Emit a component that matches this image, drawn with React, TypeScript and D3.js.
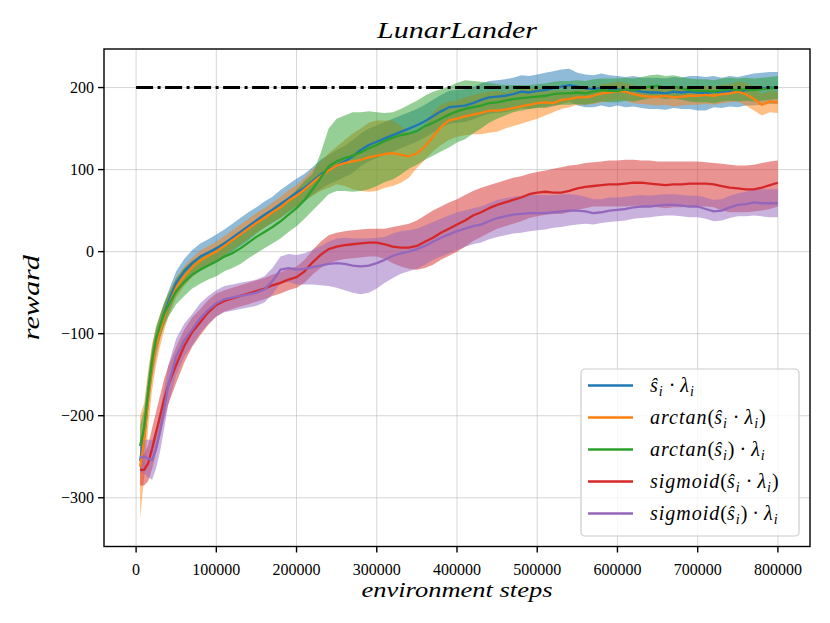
import React from 'react';
import * as d3 from 'd3';

// environment steps, in thousands
const STEPS_K = [
  5, 10, 15, 20, 25, 30, 35, 40,
  50, 60, 70, 80, 90, 100, 110, 120, 130, 140,
  150, 160, 170, 180, 190, 200, 210, 220, 230, 240,
  250, 260, 270, 280, 290, 300, 310, 320, 330, 340,
  350, 360, 370, 380, 390, 400, 410, 420, 430, 440,
  450, 460, 470, 480, 490, 500, 510, 520, 530, 540,
  550, 560, 570, 580, 590, 600, 610, 620, 630, 640,
  650, 660, 670, 680, 690, 700, 710, 720, 730, 740,
  750, 760, 770, 780, 790, 800,
];

// s_i * lambda_i
const SCALED_MEAN = [
  -255, -225, -175, -138, -112, -92, -76, -62,
  -38, -24, -14, -6, -1, 4, 10, 17, 24, 31,
  38, 45, 51, 58, 65, 72, 78, 86, 94, 100,
  105, 110, 116, 124, 130, 134, 138, 142, 146, 150,
  154, 159, 165, 171, 176, 177, 178, 181, 185, 188,
  189, 190, 192, 195, 194, 196, 197, 199, 201, 203,
  201, 199, 198, 200, 198, 198, 196, 197, 195, 194,
  194, 193, 195, 194, 195, 194, 193, 195, 194, 196,
  195, 197, 198, 199, 200, 200,
];
const SCALED_LO = [
  -270, -245, -195, -155, -128, -106, -89, -75,
  -52, -39, -30, -22, -17, -13, -7, 0, 7, 14,
  22, 29, 35, 41, 48, 55, 61, 69, 76, 82,
  86, 91, 96, 104, 110, 114, 118, 122, 126, 130,
  134, 139, 145, 151, 156, 157, 158, 161, 165, 168,
  169, 170, 172, 175, 174, 176, 175, 177, 180, 183,
  178, 176, 176, 178, 176, 178, 176, 177, 175, 174,
  174, 173, 175, 174, 174, 172, 172, 176, 175, 177,
  176, 178, 178, 179, 180, 180,
];
const SCALED_HI = [
  -240, -205, -155, -120, -96, -78, -63, -49,
  -24, -9, 2, 10, 15, 21, 27, 34, 41, 48,
  54, 61, 67, 75, 82, 89, 95, 103, 112, 118,
  124, 129, 136, 144, 150, 154, 158, 162, 166, 170,
  174, 179, 185, 191, 196, 197, 198, 201, 205, 208,
  209, 210, 212, 215, 214, 216, 218, 220, 222, 223,
  218, 216, 215, 217, 215, 214, 213, 214, 212, 212,
  212, 211, 213, 212, 214, 214, 213, 214, 212, 214,
  213, 215, 217, 218, 219, 219,
];

// arctan(s_i * lambda_i)
const ATAN_PROD_MEAN = [
  -262, -230, -180, -140, -115, -96, -80, -66,
  -44, -30, -19, -11, -5, 0, 7, 14, 21, 28,
  35, 41, 48, 54, 62, 68, 76, 84, 92, 99,
  105, 108, 110, 112, 115, 117, 119, 120, 118, 116,
  120, 128, 140, 152, 160, 162, 165, 167, 169, 172,
  172, 173, 175, 177, 179, 181, 182, 181, 185, 186,
  188, 188, 190, 193, 194, 196, 195, 192, 190, 189,
  189, 190, 188, 189, 190, 190, 191, 190, 192, 193,
  195, 192, 186, 179, 183, 182,
];
const ATAN_PROD_LO = [
  -325, -275, -215, -168, -138, -115, -96, -80,
  -56, -42, -31, -23, -17, -12, -5, 2, 9, 16,
  23, 29, 36, 41, 49, 55, 62, 68, 74, 78,
  82, 80, 76, 74, 73, 74, 78, 80, 84, 90,
  102, 112, 122, 130, 136, 140, 142, 143, 143, 145,
  146, 150, 153, 156, 159, 162, 166, 170, 174, 176,
  179, 179, 180, 182, 183, 185, 184, 181, 180, 179,
  178, 179, 177, 178, 179, 179, 180, 179, 181, 182,
  183, 178, 172, 166, 170, 169,
];
const ATAN_PROD_HI = [
  -200, -185, -145, -112, -92, -77, -64, -52,
  -32, -18, -7, 1, 7, 12, 19, 26, 33, 40,
  47, 53, 60, 67, 75, 81, 90, 100, 110, 120,
  128, 136, 144, 150, 157, 160, 160, 160, 153, 144,
  144, 152, 170, 179, 183, 184, 188, 191, 193, 195,
  196, 194, 197, 198, 199, 200, 198, 196, 196, 196,
  197, 198, 200, 204, 205, 207, 206, 203, 200, 199,
  200, 201, 199, 200, 201, 201, 202, 201, 203, 204,
  207, 206, 200, 192, 196, 195,
];

// arctan(s_i) * lambda_i
const ATAN_S_MEAN = [
  -237, -215, -172, -133, -106, -90, -76, -66,
  -48, -37, -28, -22, -17, -12, -6, -2, 4, 11,
  18, 24, 30, 37, 45, 53, 63, 76, 90, 104,
  110, 114, 117, 121, 126, 130, 135, 139, 142, 144,
  147, 153, 157, 162, 167, 171, 174, 176, 178, 181,
  182, 184, 186, 187, 188, 189, 190, 192, 193, 193,
  194, 193, 195, 197, 196, 196, 198, 197, 199, 201,
  202, 200, 201, 199, 197, 196, 196, 195, 197, 198,
  197, 198, 197, 198, 199, 200,
];
const ATAN_S_LO = [
  -262, -238, -192, -150, -121, -104, -90, -80,
  -64, -54, -45, -39, -34, -30, -24, -20, -15, -8,
  -2, 4, 10, 16, 24, 31, 40, 50, 60, 70,
  74, 74, 73, 74, 76, 80, 85, 88, 94, 101,
  106, 112, 117, 122, 127, 133, 137, 144, 150, 157,
  162, 166, 170, 172, 174, 175, 176, 178, 179, 179,
  180, 179, 181, 183, 182, 182, 184, 183, 185, 187,
  188, 186, 187, 185, 183, 182, 182, 181, 183, 184,
  183, 184, 183, 184, 185, 186,
];
const ATAN_S_HI = [
  -212, -192, -152, -116, -91, -76, -62, -52,
  -32, -20, -11, -5, 0, 6, 12, 16, 23, 30,
  38, 44, 50, 58, 66, 75, 86, 95, 120, 150,
  162, 166, 170, 170, 171, 170, 169, 170, 174, 179,
  184, 190, 195, 198, 201, 206, 209, 208, 207, 206,
  204, 203, 203, 203, 203, 204, 205, 207, 208, 208,
  209, 208, 210, 211, 211, 211, 212, 211, 213, 215,
  216, 214, 215, 213, 211, 210, 210, 209, 211, 212,
  211, 212, 211, 212, 213, 214,
];

// sigmoid(s_i * lambda_i)
const SIG_PROD_MEAN = [
  -266, -266, -258, -240, -220, -200, -180, -163,
  -138, -115, -98, -86, -74, -65, -60, -57, -54, -51,
  -48, -45, -41, -38, -34, -31, -24, -13, -4, 3,
  6, 8, 9, 10, 11, 11, 9, 6, 5, 5,
  7, 12, 17, 23, 28, 33, 38, 44, 48, 53,
  57, 60, 63, 66, 70, 72, 73, 72, 72, 74,
  77, 79, 80, 81, 82, 82, 83, 84, 84, 83,
  82, 81, 82, 82, 83, 83, 83, 82, 80, 78,
  77, 76, 76, 78, 81, 84,
];
const SIG_PROD_LO = [
  -285, -285, -280, -265, -245, -225, -205, -186,
  -160, -135, -116, -102, -89, -79, -73, -70, -67, -64,
  -61, -58, -54, -51, -47, -44, -38, -28, -20, -14,
  -11, -9, -8, -7, -6, -6, -9, -14, -18, -21,
  -22, -20, -16, -10, -5, 0, 6, 13, 18, 23,
  28, 31, 34, 37, 41, 43, 45, 46, 46, 48,
  51, 53, 55, 55, 55, 55, 55, 56, 56, 55,
  54, 53, 54, 54, 55, 55, 55, 54, 50, 48,
  48, 48, 49, 50, 52, 55,
];
const SIG_PROD_HI = [
  -247, -247, -236, -215, -195, -175, -155, -140,
  -116, -95, -80, -70, -59, -51, -47, -44, -41, -38,
  -35, -32, -28, -25, -21, -18, -10, 2, 12, 20,
  23, 25, 26, 27, 28, 28, 28, 30, 32, 34,
  38, 44, 50, 55, 60, 64, 69, 74, 78, 81,
  84, 87, 90, 92, 95, 97, 99, 101, 103, 105,
  106, 108, 109, 110, 111, 111, 112, 112, 111, 111,
  110, 110, 110, 110, 110, 110, 109, 108, 107, 106,
  105, 105, 106, 108, 110, 111,
];

// sigmoid(s_i) * lambda_i
const SIG_S_MEAN = [
  -251, -250, -252, -254, -240, -218, -192, -163,
  -128, -108, -95, -81, -71, -63, -58, -56, -54, -52,
  -50, -46, -36, -22, -20, -22, -21, -19, -17, -15,
  -14, -15, -17, -18, -17, -14, -10, -5, -2, 0,
  3, 7, 12, 17, 21, 25, 28, 31, 33, 37,
  41, 43, 45, 46, 47, 47, 47, 48, 49, 50,
  50, 49, 47, 48, 50, 51, 52, 54, 55, 55,
  56, 57, 57, 56, 55, 55, 52, 49, 50, 54,
  57, 58, 60, 59, 59, 59,
];
const SIG_S_LO = [
  -268, -270, -275, -278, -264, -243, -216, -187,
  -150, -128, -114, -99, -88, -79, -74, -72, -70, -68,
  -66, -62, -52, -38, -37, -40, -40, -40, -41, -42,
  -44, -47, -50, -52, -50, -45, -38, -32, -27, -24,
  -21, -16, -10, -6, -2, 2, 6, 9, 11, 15,
  18, 20, 22, 23, 25, 26, 27, 29, 30, 32,
  33, 34, 33, 35, 36, 37, 38, 40, 41, 42,
  43, 44, 44, 43, 42, 42, 40, 37, 38, 41,
  43, 43, 44, 43, 42, 42,
];
const SIG_S_HI = [
  -234, -230, -229, -230, -216, -193, -168, -139,
  -106, -88, -76, -63, -54, -47, -42, -40, -38, -36,
  -34, -30, -20, -6, -3, -4, -2, 2, 7, 12,
  16, 17, 16, 16, 16, 17, 18, 22, 25, 26,
  28, 32, 36, 40, 44, 48, 50, 53, 55, 59,
  63, 65, 67, 68, 69, 69, 69, 69, 70, 70,
  69, 67, 64, 64, 66, 66, 67, 68, 69, 68,
  69, 70, 70, 69, 68, 68, 66, 63, 64, 68,
  71, 73, 76, 76, 76, 76,
];

const SERIES_LABELS = [
  'ŝ_i · λ_i',
  'arctan(ŝ_i · λ_i)',
  'arctan(ŝ_i) · λ_i',
  'sigmoid(ŝ_i · λ_i)',
  'sigmoid(ŝ_i) · λ_i',
];
const SERIES_COLORS = ['#1f77b4', '#ff7f0e', '#2ca02c', '#d62728', '#9467bd'];

const TARGET_REWARD = 200;
const TARGET_STEPS_K = [0, 800];

const X_TICKS_K = [0, 100, 200, 300, 400, 500, 600, 700, 800];
const X_TICK_LABELS = ['0', '100000', '200000', '300000', '400000', '500000', '600000', '700000', '800000'];
const Y_TICKS = [-300, -200, -100, 0, 100, 200];
const Y_TICK_LABELS = ['\u2212300', '\u2212200', '\u2212100', '0', '100', '200'];

const SERIES = [
  { mean: SCALED_MEAN, lo: SCALED_LO, hi: SCALED_HI },
  { mean: ATAN_PROD_MEAN, lo: ATAN_PROD_LO, hi: ATAN_PROD_HI },
  { mean: ATAN_S_MEAN, lo: ATAN_S_LO, hi: ATAN_S_HI },
  { mean: SIG_PROD_MEAN, lo: SIG_PROD_LO, hi: SIG_PROD_HI },
  { mean: SIG_S_MEAN, lo: SIG_S_LO, hi: SIG_S_HI },
];

const W = 830;
const H = 623;
const M = { left: 104, right: 810, top: 49, bottom: 546.5 };
const FONT = '"Liberation Serif", "Times New Roman", serif';

// split "arctan(ŝ_i)" into italic letters, upright symbols and subscripts
function mathSegments(label: string) {
  const segs: { text: string; italic: boolean; sub: boolean }[] = [];
  for (let i = 0; i < label.length; i++) {
    let c = label[i];
    let sub = false;
    if (c === '_') {
      sub = true;
      i++;
      c = label[i];
    }
    const italic = /[a-zA-Zŝλ]/.test(c);
    const last = segs[segs.length - 1];
    if (last && last.italic === italic && last.sub === sub) last.text += c;
    else segs.push({ text: c, italic, sub });
  }
  return segs;
}

function MathText({ label, x, y, size }: { label: string; x: number; y: number; size: number }) {
  const segs = mathSegments(label);
  let inSub = false;
  return (
    <text x={x} y={y} fontFamily={FONT} fontSize={size} fill="#000" style={{ whiteSpace: 'pre' }}>
      {segs.map((s, k) => {
        let dy = 0;
        if (s.sub && !inSub) dy = size * 0.22;
        if (!s.sub && inSub) dy = -size * 0.22;
        inSub = s.sub;
        return (
          <tspan
            key={k}
            dy={dy}
            fontStyle={s.italic ? 'italic' : 'normal'}
            fontSize={s.sub ? size * 0.7 : size}
            letterSpacing={s.italic ? 1 : 0}
          >
            {s.text}
          </tspan>
        );
      })}
    </text>
  );
}

export default function App() {
  const x = d3.scaleLinear().domain([-40, 840]).range([M.left, M.right]);
  const y = d3.scaleLinear().domain([-359.4, 247]).range([M.bottom, M.top]);

  const line = d3
    .line<number>()
    .x((_, i) => x(STEPS_K[i]))
    .y((d) => y(d));

  const bandPath = (lo: number[], hi: number[]) =>
    d3
      .area<number>()
      .x((_, i) => x(STEPS_K[i]))
      .y0((_, i) => y(lo[i]))
      .y1((_, i) => y(hi[i]))(lo) as string;

  const legend = { x: 581, y: 369, w: 218, h: 167, row: 32 };

  return (
    <div style={{ position: 'absolute', left: 0, top: 0 }}>
      <svg width={W} height={H} viewBox={`0 0 ${W} ${H}`} style={{ display: 'block', background: '#fff' }}>
        <rect x={0} y={0} width={W} height={H} fill="#fff" />

        {/* grid */}
        <g stroke="#b0b0b0" strokeOpacity={0.5} strokeWidth={1}>
          {X_TICKS_K.map((t) => (
            <line key={`gx${t}`} x1={x(t)} x2={x(t)} y1={M.top} y2={M.bottom} />
          ))}
          {Y_TICKS.map((t) => (
            <line key={`gy${t}`} x1={M.left} x2={M.right} y1={y(t)} y2={y(t)} />
          ))}
        </g>

        {/* bands */}
        {SERIES.map((s, i) => (
          <path key={`band${i}`} d={bandPath(s.lo, s.hi)} fill={SERIES_COLORS[i]} fillOpacity={0.5} stroke="none" />
        ))}

        {/* mean lines */}
        {SERIES.map((s, i) => (
          <path
            key={`line${i}`}
            d={line(s.mean) as string}
            fill="none"
            stroke={SERIES_COLORS[i]}
            strokeWidth={2.3}
            strokeLinejoin="round"
          />
        ))}

        {/* target reward */}
        <line
          x1={x(TARGET_STEPS_K[0])}
          x2={x(TARGET_STEPS_K[1])}
          y1={y(TARGET_REWARD)}
          y2={y(TARGET_REWARD)}
          stroke="#000"
          strokeWidth={3}
          strokeDasharray="17,4.5,3,4.5"
        />

        {/* frame */}
        <rect
          x={M.left}
          y={M.top}
          width={M.right - M.left}
          height={M.bottom - M.top}
          fill="none"
          stroke="#000"
          strokeWidth={1.4}
        />

        {/* x axis */}
        {X_TICKS_K.map((t, i) => (
          <g key={`xt${t}`}>
            <line x1={x(t)} x2={x(t)} y1={M.bottom} y2={M.bottom + 6} stroke="#000" strokeWidth={1.4} />
            <text x={x(t)} y={575} textAnchor="middle" fontFamily={FONT} fontSize={16}>
              {X_TICK_LABELS[i]}
            </text>
          </g>
        ))}

        {/* y axis */}
        {Y_TICKS.map((t, i) => (
          <g key={`yt${t}`}>
            <line x1={M.left - 6} x2={M.left} y1={y(t)} y2={y(t)} stroke="#000" strokeWidth={1.4} />
            <text x={M.left - 10} y={y(t) + 5.5} textAnchor="end" fontFamily={FONT} fontSize={16}>
              {Y_TICK_LABELS[i]}
            </text>
          </g>
        ))}

        {/* titles */}
        <text
          x={(M.left + M.right) / 2}
          y={38}
          textAnchor="middle"
          fontFamily={FONT}
          fontStyle="italic"
          fontSize={23}
          textLength={160}
          lengthAdjust="spacingAndGlyphs"
        >
          LunarLander
        </text>
        <text
          x={(M.left + M.right) / 2}
          y={597}
          textAnchor="middle"
          fontFamily={FONT}
          fontStyle="italic"
          fontSize={21}
          textLength={191}
          lengthAdjust="spacingAndGlyphs"
          style={{ whiteSpace: 'pre' }}
        >
          environment steps
        </text>
        <text
          transform={`translate(39, ${(M.top + M.bottom) / 2}) rotate(-90)`}
          textAnchor="middle"
          fontFamily={FONT}
          fontStyle="italic"
          fontSize={24}
          textLength={85}
          lengthAdjust="spacingAndGlyphs"
        >
          reward
        </text>

        {/* legend */}
        <rect
          x={legend.x}
          y={legend.y}
          width={legend.w}
          height={legend.h}
          rx={4}
          fill="#fff"
          fillOpacity={0.8}
          stroke="#cccccc"
          strokeWidth={1.2}
        />
        {SERIES_LABELS.map((lab, i) => {
          const cy = legend.y + 16.5 + i * legend.row;
          return (
            <g key={`lg${i}`}>
              <line x1={588} x2={633} y1={cy} y2={cy} stroke={SERIES_COLORS[i]} strokeWidth={2.3} />
              <MathText label={lab} x={650} y={cy + 6} size={20} />
            </g>
          );
        })}
      </svg>
    </div>
  );
}
